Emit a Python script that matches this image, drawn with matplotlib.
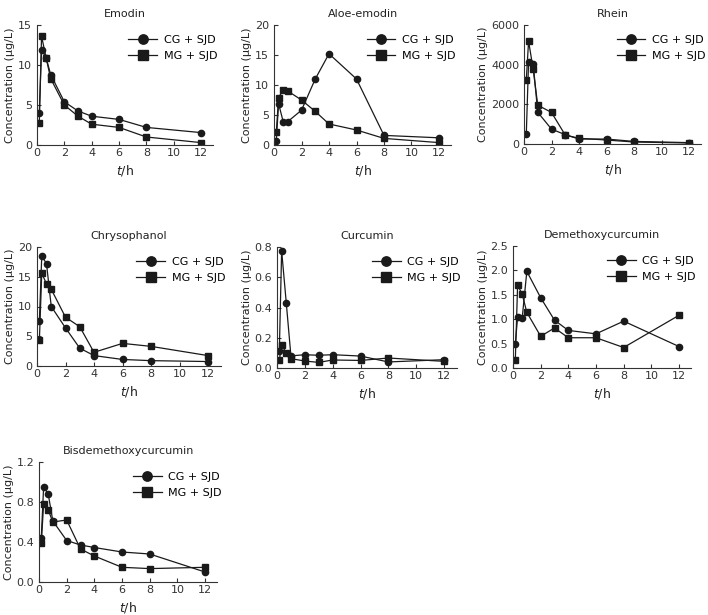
import numpy as np
import matplotlib.pyplot as plt

# sampling times (h)
t = [1/6, 1/3, 2/3, 1, 2, 3, 4, 6, 8, 12]

names = ["Emodin", "Aloe-emodin", "Rhein", "Chrysophanol", "Curcumin",
         "Demethoxycurcumin", "Bisdemethoxycurcumin"]

emodin_cg = [4.0, 11.9, 10.9, 8.8, 5.4, 4.25, 3.6, 3.2, 2.2, 1.55]
emodin_mg = [2.7, 13.6, 10.9, 8.3, 5.0, 3.6, 2.6, 2.2, 1.0, 0.3]

aloe_cg = [0.7, 6.9, 3.9, 3.9, 5.8, 11.0, 15.2, 11.0, 1.6, 1.2]
aloe_mg = [2.1, 7.9, 9.2, 9.0, 7.5, 5.6, 3.5, 2.5, 1.1, 0.4]

rhein_cg = [500, 4150, 4040, 1600, 750, 470, 250, 250, 130, 70]
rhein_mg = [3230, 5190, 3770, 1960, 1590, 450, 290, 200, 100, 50]

chryso_cg = [7.6, 18.5, 17.2, 10.0, 6.4, 3.0, 1.75, 1.1, 0.9, 0.75]
chryso_mg = [4.3, 15.6, 13.8, 12.9, 8.2, 6.6, 2.3, 3.8, 3.3, 1.75]

curc_cg = [0.11, 0.775, 0.43, 0.08, 0.088, 0.084, 0.088, 0.079, 0.04, 0.055]
curc_mg = [0.053, 0.15, 0.10, 0.062, 0.046, 0.037, 0.053, 0.05, 0.066, 0.044]

demeth_cg = [0.49, 1.05, 1.03, 1.98, 1.44, 0.98, 0.77, 0.70, 0.96, 0.44]
demeth_mg = [0.16, 1.70, 1.51, 1.14, 0.65, 0.82, 0.62, 0.62, 0.42, 1.08]

bisd_cg = [0.445, 0.95, 0.88, 0.61, 0.415, 0.37, 0.345, 0.30, 0.28, 0.10]
bisd_mg = [0.39, 0.78, 0.72, 0.60, 0.62, 0.33, 0.26, 0.147, 0.134, 0.147]

cg_all = [emodin_cg, aloe_cg, rhein_cg, chryso_cg, curc_cg, demeth_cg, bisd_cg]
mg_all = [emodin_mg, aloe_mg, rhein_mg, chryso_mg, curc_mg, demeth_mg, bisd_mg]

yticks_all = [
    [0, 5, 10, 15],
    [0, 5, 10, 15, 20],
    [0, 2000, 4000, 6000],
    [0, 5, 10, 15, 20],
    [0.0, 0.2, 0.4, 0.6, 0.8],
    [0.0, 0.5, 1.0, 1.5, 2.0, 2.5],
    [0.0, 0.4, 0.8, 1.2],
]
ytick_fmt = ["{:.0f}", "{:.0f}", "{:.0f}", "{:.0f}", "{:.1f}", "{:.1f}", "{:.1f}"]
xticks = [0, 2, 4, 6, 8, 10, 12]

W, H = 708, 615
# pixel boxes: x of t=0, x of t=12, y top, y bottom
boxes = [
    (37, 201, 25, 145),
    (274, 439, 25, 145),
    (524, 689, 25, 144),
    (37, 208, 247, 366),
    (277, 444, 247, 368),
    (513, 679, 246, 368),
    (39, 205, 462, 582),
]

plt.rcParams['font.family'] = 'DejaVu Sans'
fig = plt.figure(figsize=(W / 100, H / 100), dpi=100)
ink = '#1a1a1a'

for i, name in enumerate(names):
    x0, x12, yt, yb = boxes[i]
    per = (x12 - x0) / 12.0
    xmax = 12.9
    ax = fig.add_axes([x0 / W, (H - yb) / H, xmax * per / W, (yb - yt) / H])
    ax.plot(t, cg_all[i], '-o', color=ink, lw=0.9, ms=4.5, label='CG + SJD')
    ax.plot(t, mg_all[i], '-s', color=ink, lw=0.9, ms=4.5, label='MG + SJD')
    yt_list = yticks_all[i]
    ax.set_xlim(0, xmax)
    ax.set_ylim(yt_list[0], yt_list[-1])
    ax.set_xticks(xticks)
    ax.set_yticks(yt_list)
    ax.set_yticklabels([ytick_fmt[i].format(v) for v in yt_list])
    for s in ['top', 'right']:
        ax.spines[s].set_visible(False)
    for s in ['left', 'bottom']:
        ax.spines[s].set_linewidth(0.8)
        ax.spines[s].set_color('#333333')
    ax.tick_params(direction='in', length=3, width=0.8, labelsize=8,
                   colors='#333333')
    ax.tick_params(axis='y', pad=3.5)
    ax.tick_params(axis='x', pad=2.5)
    ax.set_title(name, fontsize=8, color='#222222', pad=6)
    ax.set_xlabel('$t$/h', fontsize=9, labelpad=3, color='#222222')
    ax.set_ylabel('Concentration (μg/L)', fontsize=8, labelpad=2, color='#222222')
    leg = ax.legend(loc='upper right', bbox_to_anchor=(1.08, 1.0), frameon=False,
                    fontsize=8, handlelength=2.6, markerscale=1.5,
                    handletextpad=0.6, labelspacing=0.5)

fig.savefig('out.png', dpi=100)
